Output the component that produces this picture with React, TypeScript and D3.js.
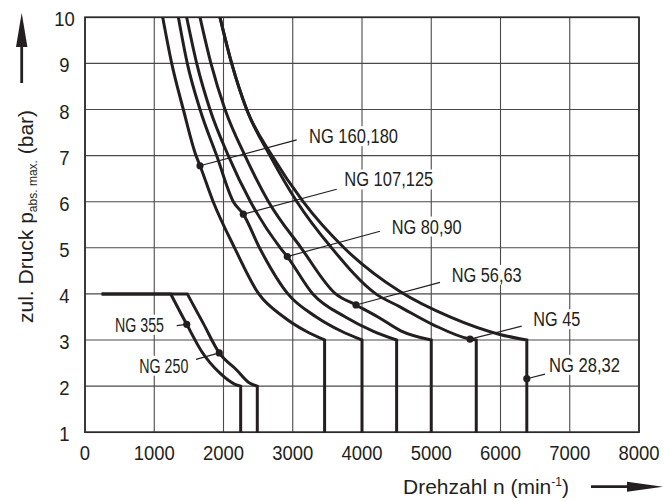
import React from "react";
import * as d3 from "d3";

// ---- data ----
const xTicks = [0, 1000, 2000, 3000, 4000, 5000, 6000, 7000, 8000];
const yTicks = [1, 2, 3, 4, 5, 6, 7, 8, 9, 10];

// speed n (1/min), pressure p (bar)
const ng160_180: [number, number][] = [[1122, 10], [1252, 9], [1420, 8], [1603, 7], [1661, 6.78], [1851, 6], [2160, 5], [2510, 4], [2870, 3.5], [3180, 3.2], [3460, 3]];
const ng107_125: [number, number][] = [[1348, 10], [1477, 9], [1661, 8], [1901, 7], [2142, 6], [2286, 5.73], [2520, 5], [2930, 4], [3340, 3.5], [3690, 3.2], [4000, 3]];
const ng80_90: [number, number][] = [[1468, 10], [1613, 9], [1805, 8], [2069, 7], [2390, 6], [2820, 5], [2921, 4.81], [3290, 4], [3760, 3.5], [4150, 3.2], [4500, 3]];
const ng56_63: [number, number][] = [[1661, 10], [1819, 9], [2022, 8], [2310, 7], [2650, 6], [3120, 5], [3620, 4], [3913, 3.76], [4230, 3.5], [4560, 3.2], [5000, 3]];
const ng45: [number, number][] = [[1949, 10], [2118, 9], [2335, 8], [2671, 7], [3060, 6], [3560, 5], [4200, 4], [4549, 3.72], [5030, 3.33], [5560, 3.02], [5650, 3]];
const ng28_32: [number, number][] = [[1949, 10], [2118, 9], [2335, 8], [2700, 7], [3150, 6], [3740, 5], [4549, 4.05], [5270, 3.5], [5990, 3.12], [6380, 3]];
const ng355Plateau: [number, number][] = [[240, 4], [1237, 4]];
const ng355: [number, number][] = [[1237, 4], [1469, 3.34], [1685, 2.75], [1949, 2.28], [2166, 2.04], [2248, 2]];
const ng250Plateau: [number, number][] = [[240, 4], [1477, 4]];
const ng250: [number, number][] = [[1477, 4], [1708, 3.36], [1939, 2.72], [2190, 2.35], [2383, 2.06], [2488, 2]];

const curveNames = ["NG 160,180", "NG 107,125", "NG 80,90", "NG 56,63", "NG 45", "NG 28,32", "NG 355", "NG 250"];
const curvePoints = [ng160_180, ng107_125, ng80_90, ng56_63, ng45, ng28_32, ng355, ng250];
const curvePlateaus: ([number, number][] | null)[] = [null, null, null, null, null, null, ng355Plateau, ng250Plateau];
const minPressure = 1;

// annotation: marker point on curve, leader end, label anchor (data units)
const markerPoints: [number, number][] = [[1661, 6.78], [2286, 5.73], [2921, 4.81], [3913, 3.76], [5560, 3.02], [6380, 2.16], [1469, 3.34], [1939, 2.72]];
const leaderEnds: [number, number][] = [[3057, 7.34], [3635, 6.27], [4260, 5.36], [5126, 4.25], [6306, 3.3], [6643, 2.26], [1324, 3.31], [1603, 2.58]];
const labelAnchors: [number, number][] = [[3235, 7.27], [3744, 6.33], [4429, 5.31], [5295, 4.26], [6474, 3.3], [6700, 2.31], [433, 3.18], [784, 2.29]];

// ---- layout / style ----
const W = 664, H = 501;
const INK = "#231f20";
const FONT = "'Liberation Sans', Arial, Helvetica, sans-serif";
const labelWidths = [89, 89, 70, 70, 47, 71, 49, 49];

export default function App() {
  const x = d3.scaleLinear().domain([0, 8000]).range([85, 639]);
  const y = d3.scaleLinear().domain([1, 10]).range([432.2, 17.3]);

  const linLine = d3.line<[number, number]>().x(d => x(d[0])).y(d => y(d[1]));
  const curvLine = d3.line<[number, number]>().x(d => x(d[0])).y(d => y(d[1])).curve(d3.curveMonotoneX);

  const paths = curvePoints.map((pts, i) => {
    const plateau = curvePlateaus[i];
    let p = "";
    if (plateau) p += linLine(plateau) || "";
    const c = curvLine(pts) || "";
    p += plateau ? c.replace(/^M/, "L") : c;
    const last = pts[pts.length - 1];
    const drop = linLine([last, [last[0], minPressure]]) || "";
    p += drop.replace(/^M/, "L");
    return p;
  });

  const labelSize = 19.5;
  const cap = labelSize * 0.716;

  return (
    <svg width={W} height={H} style={{ position: "absolute", left: 0, top: 0, background: "#fff" }} fontFamily={FONT}>
      <rect x={0} y={0} width={W} height={H} fill="#fff" />
      {/* grid */}
      <g stroke="#4a4a4a" strokeWidth={1.1}>
        {xTicks.map(t => (
          <line key={"gx" + t} x1={x(t)} x2={x(t)} y1={y(1)} y2={y(10)} />
        ))}
        {yTicks.map(t => (
          <line key={"gy" + t} x1={x(0)} x2={x(8000)} y1={y(t)} y2={y(t)} />
        ))}
      </g>
      {/* label backgrounds */}
      {labelAnchors.map((a, i) => (
        <rect key={"bg" + i} x={x(a[0]) - 2} y={y(a[1]) - cap - 3} width={labelWidths[i] + 4} height={cap + 6} fill="#fff" />
      ))}
      {/* frame */}
      <rect x={x(0)} y={y(10)} width={x(8000) - x(0)} height={y(1) - y(10)} fill="none" stroke="#2a2a2a" strokeWidth={1.7} />
      {/* curves */}
      <g fill="none" stroke={INK} strokeWidth={3} strokeLinejoin="miter">
        {paths.map((d, i) => (
          <path key={"c" + i} d={d} />
        ))}
      </g>
      {/* leaders + markers */}
      {markerPoints.map((m, i) => (
        <g key={"m" + i}>
          <line x1={x(m[0])} y1={y(m[1])} x2={x(leaderEnds[i][0])} y2={y(leaderEnds[i][1])} stroke={INK} strokeWidth={1.2} />
          <circle cx={x(m[0])} cy={y(m[1])} r={3.6} fill={INK} />
        </g>
      ))}
      {/* labels */}
      {labelAnchors.map((a, i) => (
        <text key={"t" + i} x={x(a[0])} y={y(a[1])} fontSize={labelSize} fill={INK}
          textLength={labelWidths[i]} lengthAdjust="spacingAndGlyphs">
          {curveNames[i]}
        </text>
      ))}
      {/* x tick labels */}
      {xTicks.map(t => (
        <text key={"xt" + t} transform={`translate(${x(t)},460) scale(0.88,1)`} textAnchor="middle" fontSize={21} fill={INK}>
          {t}
        </text>
      ))}
      {/* y tick labels */}
      {yTicks.map(t => (
        <text key={"yt" + t} transform={`translate(64.5,${y(t) + 9}) scale(0.88,1)`} textAnchor="middle" fontSize={21} fill={INK}>
          {t}
        </text>
      ))}
      {/* x axis title */}
      <text x={403} y={494} fontSize={21} fill={INK}>
        Drehzahl n (min<tspan dy={-8} fontSize={12}>-1</tspan><tspan dy={8}>)</tspan>
      </text>
      {/* x arrow */}
      <line x1={591} y1={486.7} x2={630} y2={486.7} stroke={INK} strokeWidth={2.8} />
      <path d={`M627,481.7 L663,486.7 L627,491.7 Z`} fill={INK} />
      {/* y axis title */}
      <text transform="translate(33,323) rotate(-90)" fontSize={21} fill={INK}>
        zul. Druck p<tspan dy={4} fontSize={12}>abs. max.</tspan><tspan dy={-4}> (bar)</tspan>
      </text>
      {/* y arrow */}
      <line x1={21.7} y1={83} x2={21.7} y2={44} stroke={INK} strokeWidth={2.8} />
      <path d={`M16,47 L21.7,12.7 L27.4,47 Z`} fill={INK} />
    </svg>
  );
}
